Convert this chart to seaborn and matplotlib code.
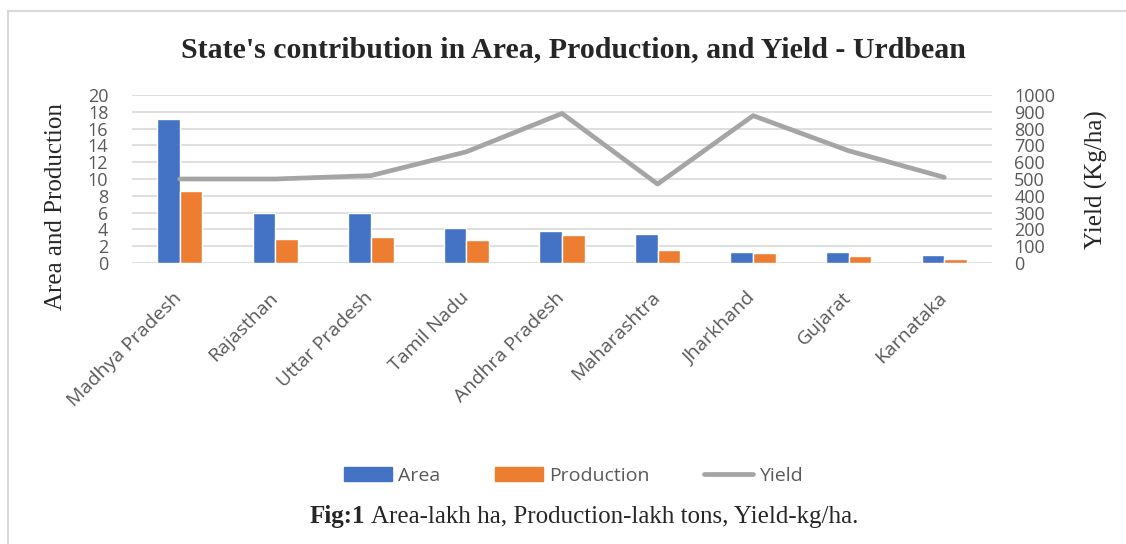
import numpy as np
import pandas as pd
import matplotlib
matplotlib.use("Agg")
import matplotlib.pyplot as plt
import matplotlib.patches as mpatches
import matplotlib.transforms as mtransforms
from matplotlib.lines import Line2D
import seaborn as sns

states = ["Madhya Pradesh", "Rajasthan", "Uttar Pradesh", "Tamil Nadu", "Andhra Pradesh",
          "Maharashtra", "Jharkhand", "Gujarat", "Karnataka"]
area = [17.2, 5.95, 5.9, 4.2, 3.8, 3.5, 1.35, 1.28, 0.92]
production = [8.6, 2.9, 3.1, 2.75, 3.35, 1.6, 1.2, 0.8, 0.45]
yield_kg = [500, 500, 520, 662, 890, 470, 877, 668, 510]

area_color = "#4472C4"
prod_color = "#ED7D31"
yield_color = "#A5A5A5"
tick_color = "#595959"
grid_color = "#D9D9D9"

df = pd.DataFrame({"State": states * 2,
                   "Value": area + production,
                   "Series": ["Area"] * len(states) + ["Production"] * len(states)})

sns.set_style("white")
plt.rcParams["font.family"] = ["Open Sans", "DejaVu Sans"]

W, H = 1126, 544
fig = plt.figure(figsize=(W / 100, H / 100), dpi=100)

# outer chart border
fig.patches.append(mpatches.Rectangle((8 / W, -0.1), 1.2, 1 - 11 / H + 0.1,
                                      transform=fig.transFigure, fill=False,
                                      edgecolor=grid_color, linewidth=1.5))

ax = fig.add_axes([132 / W, 1 - 263 / H, 860 / W, 168 / H])
sns.barplot(data=df, x="State", y="Value", hue="Series", order=states,
            palette=[area_color, prod_color], width=0.475, gap=0,
            saturation=1, legend=False, ax=ax)
n = len(states)
ax.set_xlim(-0.5, n - 0.5)
ax.set_ylim(0, 20)
ax.set_yticks(range(0, 21, 2))
ax.yaxis.grid(True, color=grid_color, linewidth=1.2)
ax.set_axisbelow(True)
ax.set_xlabel("")
ax.set_ylabel("")
for s in ax.spines.values():
    s.set_visible(False)
ax.tick_params(axis="y", length=0, pad=17, labelsize=13, labelcolor=tick_color)
ax.tick_params(axis="x", length=0, pad=20, labelsize=14, labelcolor=tick_color)
shift = mtransforms.ScaledTranslation(-7 / 100, 2 / 100, fig.dpi_scale_trans)
for lbl in ax.get_xticklabels():
    lbl.set_rotation(45)
    lbl.set_ha("right")
    lbl.set_rotation_mode("anchor")
    lbl.set_transform(lbl.get_transform() + shift)

ax2 = ax.twinx()
sns.lineplot(x=np.arange(n), y=yield_kg, color=yield_color,
             linewidth=3.4, ax=ax2)
ax2.set_ylim(0, 1000)
ax2.set_yticks(range(0, 1001, 100))
ax2.set_xlim(-0.5, n - 0.5)
for s in ax2.spines.values():
    s.set_visible(False)
ax2.tick_params(axis="y", length=0, pad=16, labelsize=13, labelcolor=tick_color)
ax2.set_ylabel("")

serif = ["Liberation Serif", "DejaVu Serif"]
fig.text(573.5 / W, 1 - 50 / H, "State's contribution in Area, Production, and Yield - Urdbean",
         ha="center", va="center", fontsize=21.5, fontweight="bold", family=serif)
fig.text(56 / W, 1 - 207 / H, "Area and Production", rotation=90,
         ha="center", va="center", fontsize=18, family=serif)
fig.text(1096 / W, 1 - 180 / H, "Yield (Kg/ha)", rotation=90,
         ha="center", va="center", fontsize=18, family=serif)

handles = [mpatches.Patch(color=area_color, label="Area"),
           mpatches.Patch(color=prod_color, label="Production"),
           Line2D([], [], color=yield_color, linewidth=3.4, label="Yield")]
fig.legend(handles=handles, loc="center", bbox_to_anchor=(573 / W, 1 - 476 / H),
           ncol=3, frameon=False, fontsize=14, labelcolor=tick_color,
           handlelength=2.5, handleheight=0.75, handletextpad=0.3, columnspacing=2.8)

fig.text(310 / W, 1 - 517 / H, "Fig:1", ha="left", va="center",
         fontsize=18, fontweight="bold", family=serif)
fig.text(371 / W, 1 - 517 / H, "Area-lakh ha, Production-lakh tons, Yield-kg/ha.",
         ha="left", va="center", fontsize=18, family=serif)

fig.savefig("out.png", dpi=100)
